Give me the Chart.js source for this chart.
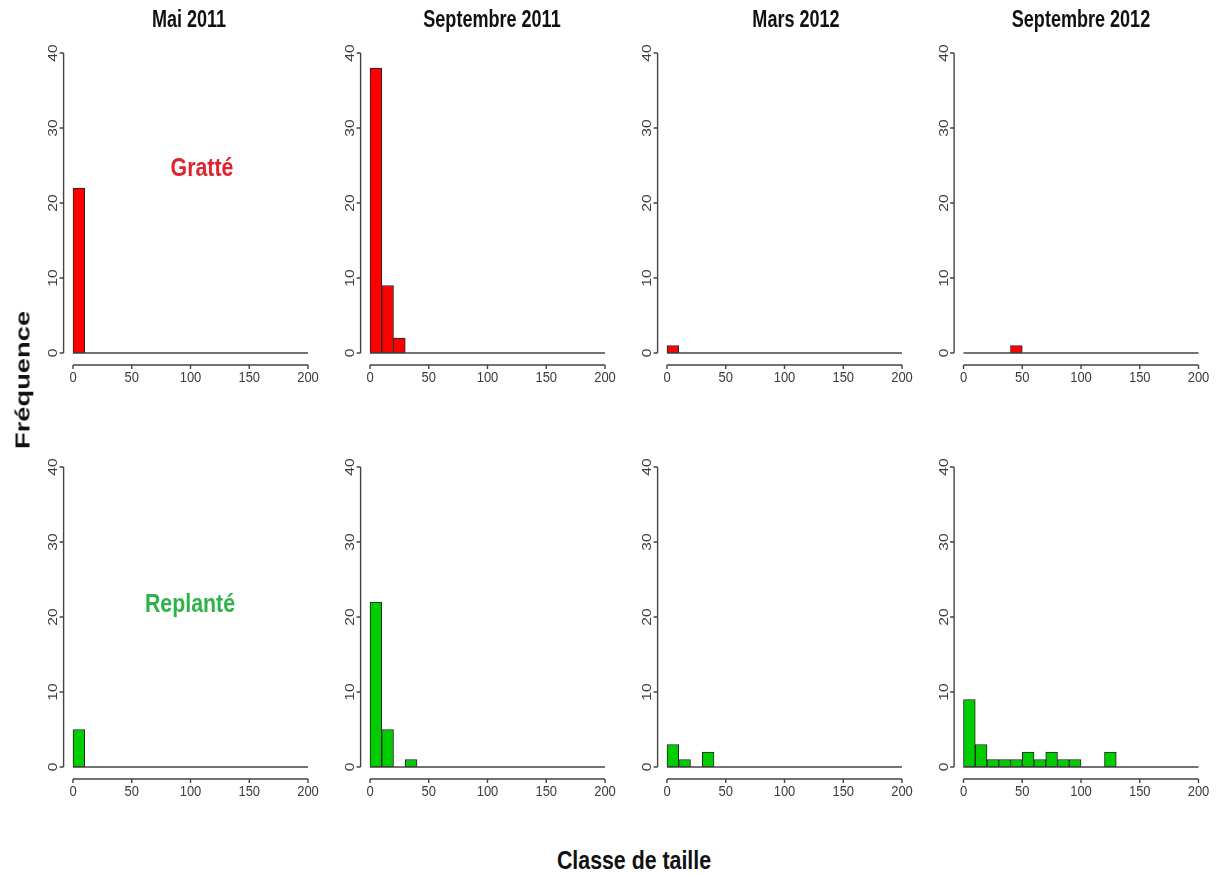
<!DOCTYPE html>
<html>
<head>
<meta charset="utf-8">
<script src="https://cdn.jsdelivr.net/npm/chart.js@4/dist/chart.umd.min.js"></script>
<style>
  html, body { margin: 0; padding: 0; background: #ffffff; }
  #wrap { position: relative; width: 1216px; height: 875px; overflow: hidden; background: #ffffff; }
  canvas { position: absolute; }
  .lbl { position: absolute; white-space: nowrap; line-height: 1; font-family: "Liberation Sans", Arial, sans-serif; font-weight: bold; }
</style>
</head>
<body>
<div id="wrap"></div>
<script>
// ---------- data ----------
const binCenters = [5, 15, 25, 35, 45, 55, 65, 75, 85, 95, 105, 115, 125, 135, 145, 155, 165, 175, 185, 195];
const xTicks = [0, 50, 100, 150, 200];
const yTicks = [0, 10, 20, 30, 40];
const panelTitles = ['Mai 2011', 'Septembre 2011', 'Mars 2012', 'Septembre 2012'];
const rowLabels = ['Gratté', 'Replanté'];
const xTitle = 'Classe de taille';
const yTitle = 'Fréquence';

const gratteMai2011   = [22, 0, 0, 0, 0, 0, 0, 0, 0, 0, 0, 0, 0, 0, 0, 0, 0, 0, 0, 0];
const gratteSep2011   = [38, 9, 2, 0, 0, 0, 0, 0, 0, 0, 0, 0, 0, 0, 0, 0, 0, 0, 0, 0];
const gratteMar2012   = [1, 0, 0, 0, 0, 0, 0, 0, 0, 0, 0, 0, 0, 0, 0, 0, 0, 0, 0, 0];
const gratteSep2012   = [0, 0, 0, 0, 1, 0, 0, 0, 0, 0, 0, 0, 0, 0, 0, 0, 0, 0, 0, 0];
const replanteMai2011 = [5, 0, 0, 0, 0, 0, 0, 0, 0, 0, 0, 0, 0, 0, 0, 0, 0, 0, 0, 0];
const replanteSep2011 = [22, 5, 0, 1, 0, 0, 0, 0, 0, 0, 0, 0, 0, 0, 0, 0, 0, 0, 0, 0];
const replanteMar2012 = [3, 1, 0, 2, 0, 0, 0, 0, 0, 0, 0, 0, 0, 0, 0, 0, 0, 0, 0, 0];
const replanteSep2012 = [9, 3, 1, 1, 1, 2, 1, 2, 1, 1, 0, 0, 2, 0, 0, 0, 0, 0, 0, 0];

const rows = [
  [gratteMai2011, gratteSep2011, gratteMar2012, gratteSep2012],
  [replanteMai2011, replanteSep2011, replanteMar2012, replanteSep2012]
];

// ---------- styling / layout ----------
const rowColors = ['#ff0000', '#00cd00'];
const rowTextColors = ['#e0222c', '#2eb24a'];
const colX0 = [73, 370, 667, 963.5];   // pixel of x = 0
const rowY0 = [353, 767];              // pixel of y = 0
const pxX = 235 / 200, pxY = 7.5;
const xMin = -8, xMax = 208, yMin = -1.6, yMax = 41.6;

const wrap = document.getElementById('wrap');

const rAxes = {
  id: 'rAxes',
  afterDraw(chart) {
    const ctx = chart.ctx, x = chart.scales.x, y = chart.scales.y, a = chart.chartArea;
    ctx.save();
    ctx.strokeStyle = '#444';
    ctx.lineWidth = 1.4;
    // baseline at 0 across all bins
    ctx.beginPath();
    ctx.moveTo(x.getPixelForValue(0), y.getPixelForValue(0));
    ctx.lineTo(x.getPixelForValue(200), y.getPixelForValue(0));
    ctx.stroke();
    // y axis
    ctx.beginPath();
    ctx.moveTo(a.left, y.getPixelForValue(yTicks[0]));
    ctx.lineTo(a.left, y.getPixelForValue(yTicks[yTicks.length - 1]));
    yTicks.forEach(v => { const py = y.getPixelForValue(v); ctx.moveTo(a.left, py); ctx.lineTo(a.left - 4, py); });
    // x axis
    ctx.moveTo(x.getPixelForValue(xTicks[0]), a.bottom);
    ctx.lineTo(x.getPixelForValue(xTicks[xTicks.length - 1]), a.bottom);
    xTicks.forEach(v => { const px = x.getPixelForValue(v); ctx.moveTo(px, a.bottom); ctx.lineTo(px, a.bottom + 4); });
    ctx.stroke();
    // labels
    ctx.fillStyle = '#3c3c3c';
    ctx.font = '13px "Liberation Sans", Arial, sans-serif';
    ctx.textAlign = 'center';
    ctx.textBaseline = 'middle';
    yTicks.forEach(v => {
      ctx.save();
      ctx.translate(a.left - 10, y.getPixelForValue(v));
      ctx.rotate(-Math.PI / 2);
      ctx.scale(1.2, 1);
      ctx.fillText(String(v), 0, 0);
      ctx.restore();
    });
    xTicks.forEach(v => {
      ctx.save();
      ctx.translate(x.getPixelForValue(v), a.bottom + 13);
      ctx.scale(1, 1.15);
      ctx.fillText(String(v), 0, 0);
      ctx.restore();
    });
    ctx.restore();
  }
};

rows.forEach((row, r) => {
  row.forEach((counts, c) => {
    const x0 = colX0[c], y0 = rowY0[r];
    const plotLeft = x0 + xMin * pxX, plotRight = x0 + xMax * pxX;
    const plotTop = y0 - yMax * pxY, plotBottom = y0 - yMin * pxY;
    const L = Math.floor(plotLeft - 40), W = 310;
    const T = Math.floor(plotTop - 10), H = Math.ceil(plotBottom + 30) - T;
    const cv = document.createElement('canvas');
    cv.width = W; cv.height = H;
    cv.style.left = L + 'px'; cv.style.top = T + 'px';
    cv.style.width = W + 'px'; cv.style.height = H + 'px';
    wrap.appendChild(cv);
    new Chart(cv, {
      type: 'bar',
      data: {
        datasets: [{
          data: binCenters.map((b, i) => ({ x: b, y: counts[i] })),
          backgroundColor: rowColors[r],
          borderColor: '#222',
          borderWidth: 1,
          borderSkipped: false,
          barPercentage: 1,
          categoryPercentage: 1
        }]
      },
      options: {
        responsive: false,
        animation: false,
        events: [],
        layout: { padding: { left: plotLeft - L, right: L + W - plotRight, top: plotTop - T, bottom: T + H - plotBottom } },
        plugins: { legend: { display: false }, tooltip: { enabled: false }, title: { display: false } },
        scales: {
          x: { type: 'linear', min: xMin, max: xMax, offset: false, display: false },
          y: { type: 'linear', min: yMin, max: yMax, display: false }
        }
      },
      plugins: [rAxes]
    });
  });
});

// ---------- text ----------
function addText(txt, cx, cy, size, color, transform) {
  const d = document.createElement('div');
  d.className = 'lbl';
  d.textContent = txt;
  d.style.left = cx + 'px';
  d.style.top = cy + 'px';
  d.style.fontSize = size + 'px';
  d.style.color = color;
  d.style.transform = 'translate(-50%, -50%) ' + transform;
  wrap.appendChild(d);
}
const titleCx = [189, 492, 796, 1081];
panelTitles.forEach((t, i) => addText(t, titleCx[i], 20, 22, '#111', 'scaleX(0.82) scaleY(1.05)'));
addText(rowLabels[0], 202, 167, 26, rowTextColors[0], 'scaleX(0.82)');
addText(rowLabels[1], 190, 603, 26, rowTextColors[1], 'scaleX(0.82)');
addText(xTitle, 634, 860, 26, '#111', 'scaleX(0.82)');
addText(yTitle, 22, 380, 21, '#111', 'rotate(-90deg) scaleX(1.3)');
</script>
</body>
</html>
